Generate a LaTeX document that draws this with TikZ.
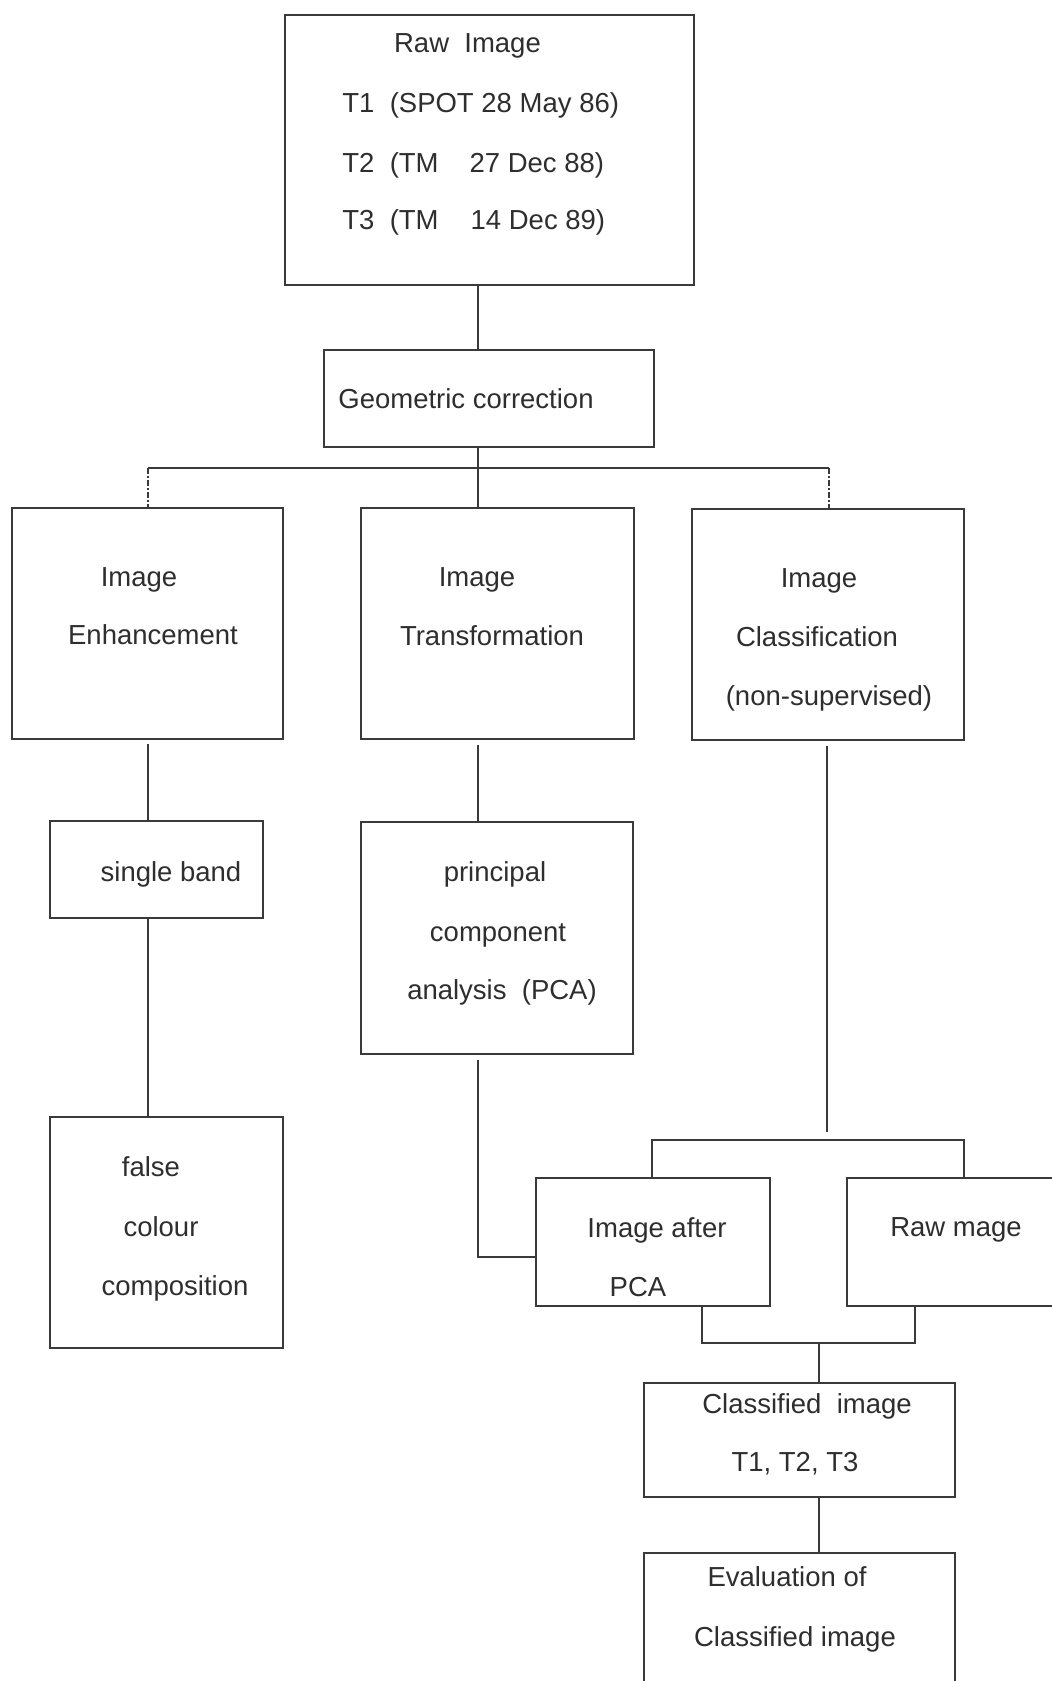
\documentclass[tikz,border=0pt]{standalone}
\usepackage{fontspec}
\setmainfont{Liberation Sans}
\usetikzlibrary{calc}
\definecolor{ink}{HTML}{3A3A3A}
\definecolor{txtc}{HTML}{2E2E2E}
\tikzset{
 box/.style={draw=ink, line width=0.9pt, rectangle, inner sep=0pt},
 lbl/.style={text=txtc, inner sep=0pt, font=\fontsize{13.75}{16}\selectfont, text height=12.4pt, text depth=2.75pt},
 conn/.style={draw=ink, line width=0.9pt},
 dconn/.style={conn, dash pattern=on 3pt off 1pt on 1pt off 1pt},
}
\newcommand\boxat[5]{\node[box, minimum width={(#4-#2)*0.5pt}, minimum height={(#5-#3)*0.5pt}] (#1) at ({(#2+#4)/2},{(#3+#5)/2}) {};}
\begin{document}
\begin{tikzpicture}[x=0.5pt,y=-0.5pt]
\useasboundingbox (0,0) rectangle (1052,1681);
\clip (0,0) rectangle (1052,1681);
\fill[white] (0,0) rectangle (1052,1681);
% boxes
\boxat{raw}{285}{15}{694}{285}
\boxat{geo}{324}{350}{654}{447}
\boxat{enh}{12}{508}{283}{739}
\boxat{tra}{361}{508}{634}{739}
\boxat{cls}{692}{509}{964}{740}
\boxat{sgl}{50}{821}{263}{918}
\boxat{pca}{361}{822}{633}{1054}
\boxat{fcc}{50}{1117}{283}{1348}
\boxat{aft}{536}{1178}{770}{1306}
\boxat{rawm}{847}{1178}{1070}{1306}
\boxat{clsd}{644}{1383}{955}{1497}
\boxat{eval}{644}{1553}{955}{1710}
% texts
\node[lbl] (r1) at (467.5,43) {Raw\ \ Image};
\node[lbl,anchor=west] (r2) at (342,103) {T1\ \ (SPOT 28 May 86)};
\node[lbl,anchor=west] (r3) at (342,163) {T2\ \ (TM\hspace{15.5pt}27 Dec 88)};
\node[lbl,anchor=west] (r4) at (342,220) {T3\ \ (TM\hspace{16pt}14 Dec 89)};
\node[lbl] (g1) at (466,399) {Geometric correction};
\node[lbl] (e1) at (139,577) {Image};
\node[lbl] (e2) at (153,635) {Enhancement};
\node[lbl] (tr1) at (477,577) {Image};
\node[lbl] (tr2) at (492,636) {Transformation};
\node[lbl] (c1) at (819,578) {Image};
\node[lbl] (c2) at (817,637) {Classification};
\node[lbl] (c3) at (829,696) {(non-supervised)};
\node[lbl] (s1) at (171,872) {single band};
\node[lbl] (p1) at (495,872) {principal};
\node[lbl] (p2) at (498,932) {component};
\node[lbl] (p3) at (502,990) {analysis\ \ (PCA)};
\node[lbl] (f1) at (151,1167) {false};
\node[lbl] (f2) at (161,1227) {colour};
\node[lbl] (f3) at (175,1286) {composition};
\node[lbl] (a1) at (657,1228) {Image after};
\node[lbl] (a2) at (638,1287) {PCA};
\node[lbl] (m1) at (956,1227) {Raw mage};
\node[lbl] (k1) at (807,1404) {Classified\ \ image};
\node[lbl] (k2) at (795,1462) {T1, T2, T3};
\node[lbl] (v1) at (787,1577) {Evaluation of};
\node[lbl] (v2) at (795,1637) {Classified image};
% connectors
\coordinate (xm) at (478,0);
\coordinate (xl) at (148,0);
\coordinate (xc) at (827,0);
\coordinate (brl) at (148,468);
\coordinate (brr) at (829,468);
\draw[conn] (raw.south -| xm) -- (geo.north -| xm);
\draw[conn] (geo.south -| xm) -- (tra.north -| xm);
\draw[conn] (brl) -- (brr);
\draw[dconn] (brl) -- (enh.north -| brl);
\draw[dconn] (brr) -- (cls.north -| brr);
\draw[conn, shorten <=2pt] (enh.south -| xl) -- (sgl.north -| xl);
\draw[conn] (sgl.south -| xl) -- (fcc.north -| xl);
\draw[conn, shorten <=2.5pt] (tra.south -| xm) -- (pca.north -| xm);
\coordinate (jp) at (478,1257);
\draw[conn, shorten <=2.5pt] (pca.south -| jp) -- (jp) -- (jp -| aft.west);
\coordinate (bt) at (827,1140);
\draw[conn, shorten <=2.5pt, shorten >=4pt] (cls.south -| xc) -- (bt);
\coordinate (btl) at (652,1140);
\coordinate (btr) at (964,1140);
\draw[conn] (aft.north -| btl) -- (btl) -- (btr) -- (rawm.north -| btr);
\coordinate (bbl) at (702,1343);
\coordinate (bbr) at (915,1343);
\coordinate (bbc) at (819,1343);
\draw[conn] (aft.south -| bbl) -- (bbl) -- (bbr) -- (rawm.south -| bbr);
\draw[conn] (bbc) -- (clsd.north -| bbc);
\draw[conn] (clsd.south -| bbc) -- (eval.north -| bbc);
\end{tikzpicture}
\end{document}
